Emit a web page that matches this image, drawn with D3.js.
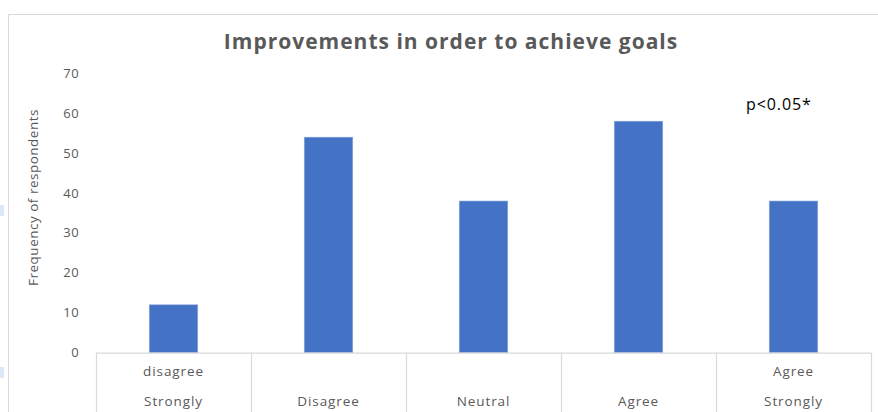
<!DOCTYPE html>
<html>
<head>
<meta charset="utf-8">
<script src="https://cdn.jsdelivr.net/npm/d3@7"></script>
<style>
  body { margin: 0; background: #fff; }
  svg { display: block; font-family: 'Open Sans', 'Noto Sans', sans-serif; }
</style>
</head>
<body>
<div id="chart"></div>
<script>
// categories: lines are listed top to bottom, as they appear under the axis
const categories = [['disagree', 'Strongly'], ['Disagree'], ['Neutral'], ['Agree'], ['Agree', 'Strongly']];
const values     = [12, 54, 38, 58, 38];
const yTicks     = [0, 10, 20, 30, 40, 50, 60, 70];
const title      = 'Improvements in order to achieve goals';
const yTitle     = 'Frequency of respondents';
const note       = 'p<0.05*';

const W = 878, H = 412;
const Mg = { top: 73.3, right: 7, bottom: 59.3, left: 96 };

const svg = d3.select('#chart').append('svg').attr('width', W).attr('height', H);

// chart frame (only top and left edges visible)
svg.append('path').attr('d', `M8.5,${H} V14.5 H${W}`)
  .attr('fill', 'none').attr('stroke', '#d9d9d9').attr('stroke-width', 1);

// faint artefacts at left edge
[[205, 11], [367, 11]].forEach(([y, h]) =>
  svg.append('rect').attr('x', 0).attr('y', y).attr('width', 4).attr('height', h).attr('fill', '#dce8f6'));

const x = d3.scaleBand().domain(d3.range(categories.length))
  .range([Mg.left, W - Mg.right]).paddingInner(0.687).paddingOuter(0.3435);
const y = d3.scaleLinear().domain([0, 70]).range([H - Mg.bottom, Mg.top]);
const y0 = y(0);

svg.append('text').attr('x', 451).attr('y', 49).attr('text-anchor', 'middle')
  .attr('fill', '#595959').attr('font-size', 21).attr('font-weight', 700)
  .attr('letter-spacing', 1).text(title);

// y tick labels
svg.append('g').selectAll('text').data(yTicks).join('text')
  .attr('x', 79).attr('y', d => y(d) + 4.5).attr('text-anchor', 'end')
  .attr('fill', '#595959').attr('font-size', 13).attr('letter-spacing', 0.4).text(d => d);

svg.append('text').attr('transform', `translate(38,197.5) rotate(-90)`).attr('text-anchor', 'middle')
  .attr('fill', '#595959').attr('font-size', 13.5).attr('letter-spacing', 0.5).text(yTitle);

// bars
svg.append('g').selectAll('rect').data(values).join('rect')
  .attr('x', (d, i) => x(i)).attr('width', x.bandwidth())
  .attr('y', d => y(d)).attr('height', d => y0 - y(d))
  .attr('fill', '#4472c4').attr('stroke', '#8faadc').attr('stroke-width', 0.6);

// category axis: baseline + boxed separators
const step = x.step();
const bounds = d3.range(categories.length + 1).map(i => Mg.left + i * step);
svg.append('line').attr('x1', Mg.left).attr('x2', W - Mg.right).attr('y1', y0 + 0.5).attr('y2', y0 + 0.5)
  .attr('stroke', '#d9d9d9').attr('stroke-width', 1.2);
svg.append('g').selectAll('line').data(bounds).join('line')
  .attr('x1', d => Math.round(d) + 0.5).attr('x2', d => Math.round(d) + 0.5)
  .attr('y1', y0).attr('y2', H).attr('stroke', '#d9d9d9').attr('stroke-width', 1.2);

categories.forEach((lines, i) => {
  const cx = x(i) + x.bandwidth() / 2;
  lines.forEach((t, j) => {
    const fromBottom = lines.length - 1 - j;
    svg.append('text').attr('x', cx).attr('y', 405.5 - fromBottom * 30).attr('text-anchor', 'middle')
      .attr('fill', '#595959').attr('font-size', 13.5).attr('letter-spacing', 0.9).text(t);
  });
});

svg.append('text').attr('x', 746).attr('y', 110).attr('fill', '#000')
  .attr('font-size', 16).attr('letter-spacing', 0.9).text(note);
</script>
</body>
</html>
